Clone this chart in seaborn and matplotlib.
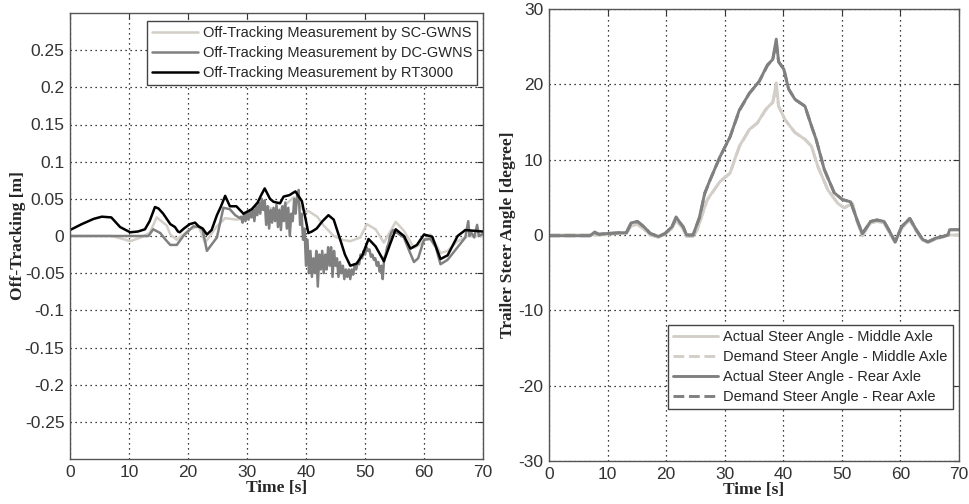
import numpy as np
import pandas as pd
import matplotlib
matplotlib.use("Agg")
import matplotlib.pyplot as plt
import seaborn as sns

# ---------------- data (left panel: off-tracking, m) ----------------
rt_t = [0, 2, 4, 5.4, 7, 8.5, 10.2, 11.5, 12.7, 13.5, 14.4, 15.0, 15.8, 17.0, 17.8, 18.3, 18.6,
        19.3, 20.3, 21.2, 21.8, 22.5, 23.2, 24.0, 24.9, 25.6, 26.3, 27.1, 28.2, 29.4, 30.8, 31.8,
        32.4, 33.0, 33.9, 34.5, 35.6, 36.2, 37.2, 38.2, 39.3, 40.0, 40.4, 41.0, 41.8, 42.8, 43.8,
        44.7, 45.8, 46.6, 47.5, 48.6, 49.6, 50.6, 51.8, 53.2, 54.2, 55.2, 56.6, 57.7, 58.8, 60.0,
        61.4, 62.8, 64.0, 65.7, 67.0, 68.5, 70.0]
rt_v = [0.008, 0.016, 0.023, 0.026, 0.025, 0.012, 0.005, 0.006, 0.009, 0.020, 0.039, 0.037, 0.030,
        0.016, 0.012, 0.006, 0.005, 0.010, 0.016, 0.018, 0.013, 0.010, 0.002, 0.008, 0.028, 0.040,
        0.054, 0.040, 0.040, 0.030, 0.036, 0.045, 0.055, 0.064, 0.050, 0.046, 0.044, 0.053, 0.055,
        0.060, 0.047, 0.020, 0.004, 0.006, 0.010, 0.020, 0.028, 0.022, -0.005, -0.025, -0.040,
        -0.037, -0.025, -0.004, -0.014, -0.034, -0.012, 0.009, 0.000, -0.017, -0.012, 0.002,
        -0.001, -0.031, -0.026, 0.000, 0.008, 0.007, 0.006]

sc_t = [0, 7, 8.5, 10.2, 12.0, 13.5, 14.7, 16.4, 17.0, 18.1, 20.3, 21.8, 22.9, 24.9, 26.3, 28.2,
        30.5, 32.2, 33.5, 35.0, 36.5, 37.9, 39.6, 40.5, 41.9, 43.0, 44.7, 46.1, 47.5, 49.2, 50.3,
        51.8, 53.2, 55.2, 56.6, 58.3, 59.4, 61.1, 62.8, 64.0, 65.7, 67.4, 70.0]
sc_v = [0.000, 0.000, -0.003, -0.007, -0.002, 0.004, 0.025, 0.014, 0.002, -0.005, 0.009, 0.013,
        -0.009, 0.013, 0.024, 0.022, 0.025, 0.035, 0.040, 0.032, 0.042, 0.052, 0.034, 0.033,
        0.026, 0.014, 0.000, -0.005, -0.007, -0.002, 0.016, 0.009, -0.009, 0.019, 0.007, -0.016,
        -0.011, 0.002, -0.023, -0.020, -0.007, 0.000, 0.000]

dc_t_head = [0, 13.3, 14.1, 15.3, 16.2, 17.0, 18.1, 19.2, 20.9, 22.0, 22.5, 23.2, 24.9, 26.0, 27.1,
             28.0, 28.8]
dc_v_head = [0.000, 0.000, 0.009, 0.004, -0.005, -0.012, -0.012, 0.000, 0.013, 0.012, 0.008,
             -0.020, -0.002, 0.038, 0.036, 0.028, 0.024]
dc_v_mid = [0.026, 0.018, 0.030, 0.020, 0.032, 0.022, 0.034, 0.025, 0.036, 0.020, 0.040, 0.028,
            0.045, 0.030, 0.050, 0.035, 0.048, 0.015, 0.040, 0.010, 0.035, 0.018, 0.038, 0.020,
            0.042, 0.012, 0.035, 0.008, 0.040, 0.020, 0.045, 0.010, 0.038, 0.000, 0.030, 0.020,
            0.050, 0.030, 0.055, 0.062, 0.015, 0.030, -0.005, 0.010, -0.040, -0.005, -0.050,
            -0.020, -0.055, -0.030, -0.050, -0.020, -0.068, -0.025, -0.045, -0.020, -0.050,
            -0.025, -0.045, -0.015, -0.040, -0.015, -0.055, -0.020, -0.040, -0.030, -0.055,
            -0.035, -0.050, -0.040, -0.058, -0.045, -0.055, -0.045, -0.058, -0.045, -0.052,
            -0.040, -0.045, -0.035, -0.038, -0.025, -0.030, -0.020, -0.025, -0.015, -0.020,
            -0.018, -0.028, -0.025, -0.032, -0.030, -0.040, -0.035, -0.048, -0.040, -0.058,
            -0.030, -0.025, -0.015, -0.010, 0.000, 0.005, 0.008, 0.005]
dc_t_mid = list(np.arange(29.0, 55.01, 0.25))
dc_t_tail = [55.5, 56.6, 57.5, 58.3, 59.0, 60.0, 61.1, 62.0, 62.8, 64.0, 65.0, 66.0, 67.0, 67.5,
             67.7, 68.0, 68.5, 69.0, 69.3, 70.0]
dc_v_tail = [0.004, -0.002, -0.020, -0.035, -0.030, -0.005, -0.004, -0.015, -0.038, -0.032,
             -0.022, -0.012, -0.002, 0.020, 0.000, 0.005, -0.002, 0.015, 0.000, 0.003]

# ---------------- data (right panel: trailer steer angle, degree) ----------------
rear_t = [0, 7.0, 7.8, 8.5, 10, 12, 13.2, 14.0, 15.1, 16.2, 17.3, 18.7, 19.8, 21.0, 21.7, 22.4,
          22.9, 23.5, 24.6, 25.7, 26.6, 27.5, 29.2, 30.9, 32.5, 34.2, 35.9, 37.3, 38.2, 38.8,
          39.2, 40.1, 40.9, 42.0, 43.7, 44.8, 45.6, 47.0, 48.7, 50.1, 51.5, 52.6, 53.5, 54.3,
          54.9, 56.0, 57.2, 58.0, 59.1, 60.2, 61.6, 62.7, 63.8, 64.7, 66.1, 67.2, 68.1, 68.4, 70.0]
rear_act = [-0.1, -0.1, 0.4, 0.1, 0.2, 0.3, 0.3, 1.6, 1.8, 1.1, 0.2, -0.2, 0.2, 1.1, 2.4, 1.6,
            1.1, 0.0, 0.0, 2.4, 5.6, 7.3, 10.4, 13.0, 16.6, 18.8, 20.4, 22.6, 23.3, 26.0, 23.0,
            22.0, 19.4, 18.0, 17.1, 14.5, 12.7, 8.7, 5.6, 4.7, 4.4, 2.0, 0.2, 1.1, 1.8, 2.0, 1.8,
            0.7, -0.9, 1.1, 2.2, 0.7, -0.6, -0.9, -0.4, -0.2, 0.0, 0.7, 0.7]
rear_dem = [-0.1, -0.1, 0.3, 0.1, 0.2, 0.3, 0.3, 1.5, 1.8, 1.1, 0.2, -0.2, 0.2, 1.1, 2.3, 1.6,
            1.1, 0.0, 0.0, 2.3, 5.5, 7.3, 10.4, 13.0, 16.5, 18.8, 20.4, 22.5, 23.3, 25.5, 23.0,
            22.0, 19.4, 18.0, 17.1, 14.5, 12.7, 8.7, 5.6, 4.7, 4.4, 2.0, 0.2, 1.1, 1.8, 2.0, 1.8,
            0.7, -0.9, 1.1, 2.2, 0.7, -0.6, -0.9, -0.4, -0.2, 0.0, 0.7, 0.7]

mid_t = [0, 7.0, 8.5, 10, 12, 13.2, 14.0, 15.1, 16.2, 17.3, 18.7, 19.8, 21.0, 21.7, 22.4, 22.9,
         23.5, 24.6, 25.3, 27.0, 29.2, 30.9, 32.5, 34.2, 35.6, 37.0, 38.2, 38.8, 39.2, 40.3,
         42.0, 43.7, 44.8, 45.9, 47.6, 49.3, 50.4, 51.8, 52.6, 53.5, 54.3, 54.9, 56.0, 57.2,
         58.0, 59.1, 60.2, 61.6, 62.7, 63.8, 64.7, 66.1, 67.2, 68.1, 70.0]
mid_act = [0.0, 0.0, 0.0, 0.1, 0.2, 0.2, 1.2, 1.4, 0.8, 0.0, -0.3, 0.1, 0.9, 2.0, 1.3, 0.8,
           -0.2, -0.2, 0.7, 4.7, 7.1, 8.2, 11.8, 14.0, 14.9, 16.7, 17.6, 20.2, 17.1, 15.3, 13.6,
           12.7, 11.8, 9.1, 6.0, 4.2, 3.6, 4.2, 1.8, -0.1, 0.9, 1.6, 1.8, 1.6, 0.5, -1.0, 0.9,
           2.0, 0.5, -0.7, -1.0, -0.5, -0.3, 0.0, 0.0]
mid_dem = [0.0, 0.0, 0.0, 0.1, 0.2, 0.2, 1.2, 1.4, 0.8, 0.0, -0.3, 0.1, 0.9, 1.9, 1.3, 0.8,
           -0.2, -0.2, 0.7, 4.6, 7.1, 8.2, 11.7, 14.0, 14.9, 16.6, 17.6, 19.5, 17.1, 15.3, 13.6,
           12.7, 11.8, 9.1, 6.0, 4.2, 3.6, 4.2, 1.8, -0.1, 0.9, 1.6, 1.8, 1.6, 0.5, -1.0, 0.9,
           2.0, 0.5, -0.7, -1.0, -0.5, -0.3, 0.0, 0.0]

left_labels = ["Off-Tracking Measurement by SC-GWNS",
               "Off-Tracking Measurement by DC-GWNS",
               "Off-Tracking Measurement by RT3000"]
right_labels = ["Actual Steer Angle - Middle Axle",
                "Demand Steer Angle - Middle Axle",
                "Actual Steer Angle - Rear Axle",
                "Demand Steer Angle - Rear Axle"]
x_ticks = [0, 10, 20, 30, 40, 50, 60, 70]
left_yticks = [-0.25, -0.2, -0.15, -0.1, -0.05, 0, 0.05, 0.1, 0.15, 0.2, 0.25]
left_yticklabels = ["-0.25", "-0.2", "-0.15", "-0.1", "-0.05", "0", "0.05", "0.1", "0.15", "0.2", "0.25"]
right_yticks = [-30, -20, -10, 0, 10, 20, 30]

# ---------------- styling ----------------
sns.set_style("white")
plt.rcParams.update({
    "font.family": ["Liberation Sans", "DejaVu Sans"],
    "xtick.direction": "in", "ytick.direction": "in",
    "xtick.top": True, "ytick.right": True,
    "xtick.major.size": 4, "ytick.major.size": 4,
    "xtick.color": "#333333", "ytick.color": "#333333",
    "axes.edgecolor": "#555555", "axes.linewidth": 1.0,
})

LIGHT = "#d3cfc8"
MID = "#808080"
DARK = "#000000"
LW = 1.8

fig = plt.figure(figsize=(9.69, 5.04), dpi=100)
axL = fig.add_axes([70 / 969, 1 - 459 / 504, 413 / 969, 446 / 504])
axR = fig.add_axes([549 / 969, 1 - 461 / 504, 410 / 969, 452 / 504])

label_font = dict(family=["Liberation Serif", "DejaVu Serif"], weight="bold", size=12.5)

def style_axes(ax):
    ax.grid(True, linestyle=(0, (1, 3)), color="black", linewidth=0.9)
    ax.set_axisbelow(True)
    ax.set_xlim(0, 70)
    ax.set_xticks(x_ticks)
    ax.set_xticklabels([str(v) for v in x_ticks])
    ax.tick_params(labelsize=12.5, pad=4, width=0.8)
    for s in ax.spines.values():
        s.set_visible(True)
        s.set_color("#555555")

# left panel
df_sc = pd.DataFrame({"t": sc_t, "v": sc_v})
df_dc = pd.DataFrame({"t": dc_t_head + dc_t_mid + dc_t_tail,
                      "v": dc_v_head + dc_v_mid + dc_v_tail})
df_rt = pd.DataFrame({"t": rt_t, "v": rt_v})
sns.lineplot(data=df_sc, x="t", y="v", ax=axL, color=LIGHT, lw=LW, sort=False,
             estimator=None, label=left_labels[0])
sns.lineplot(data=df_dc, x="t", y="v", ax=axL, color=MID, lw=LW, sort=False,
             estimator=None, label=left_labels[1])
sns.lineplot(data=df_rt, x="t", y="v", ax=axL, color=DARK, lw=LW, sort=False,
             estimator=None, label=left_labels[2])
style_axes(axL)
axL.set_ylim(-0.3, 0.3)
axL.set_yticks(left_yticks)
axL.set_yticklabels(left_yticklabels)
axL.set_xlabel("Time [s]", fontdict=label_font, labelpad=0)
axL.set_ylabel("Off-Tracking [m]", fontdict=label_font)
axL.yaxis.set_label_coords(-0.107, 0.5)
legL = axL.legend(loc="upper right", fontsize=10.5, frameon=True, fancybox=False,
                  edgecolor="#444444", framealpha=1, handlelength=3.1,
                  bbox_to_anchor=(0.986, 0.982), borderaxespad=0.0,
                  labelspacing=0.4, handletextpad=0.35, borderpad=0.35)
legL.get_frame().set_linewidth(1.0)

# right panel
df_ma = pd.DataFrame({"t": mid_t, "v": mid_act})
df_md = pd.DataFrame({"t": mid_t, "v": mid_dem})
df_ra = pd.DataFrame({"t": rear_t, "v": rear_act})
df_rd = pd.DataFrame({"t": rear_t, "v": rear_dem})
sns.lineplot(data=df_ma, x="t", y="v", ax=axR, color=LIGHT, lw=LW + 0.3, sort=False,
             estimator=None, label=right_labels[0])
sns.lineplot(data=df_md, x="t", y="v", ax=axR, color=LIGHT, lw=LW + 0.3, sort=False,
             estimator=None, label=right_labels[1], linestyle="--")
sns.lineplot(data=df_ra, x="t", y="v", ax=axR, color=MID, lw=LW + 0.3, sort=False,
             estimator=None, label=right_labels[2])
sns.lineplot(data=df_rd, x="t", y="v", ax=axR, color=MID, lw=LW + 0.3, sort=False,
             estimator=None, label=right_labels[3], linestyle="--")
style_axes(axR)
axR.set_ylim(-30, 30)
axR.set_yticks(right_yticks)
axR.set_yticklabels([str(v) for v in right_yticks])
axR.set_xlabel("Time [s]", fontdict=label_font, labelpad=0)
axR.set_ylabel("Trailer Steer Angle [degree]", fontdict=label_font)
axR.yaxis.set_label_coords(-0.080, 0.5)
legR = axR.legend(loc="lower right", fontsize=10.5, frameon=True, fancybox=False,
                  edgecolor="#444444", framealpha=1, handlelength=3.1,
                  bbox_to_anchor=(0.985, 0.115), borderaxespad=0.0,
                  labelspacing=0.4, handletextpad=0.35, borderpad=0.35)
legR.get_frame().set_linewidth(1.0)

fig.savefig("out.png", dpi=100)
